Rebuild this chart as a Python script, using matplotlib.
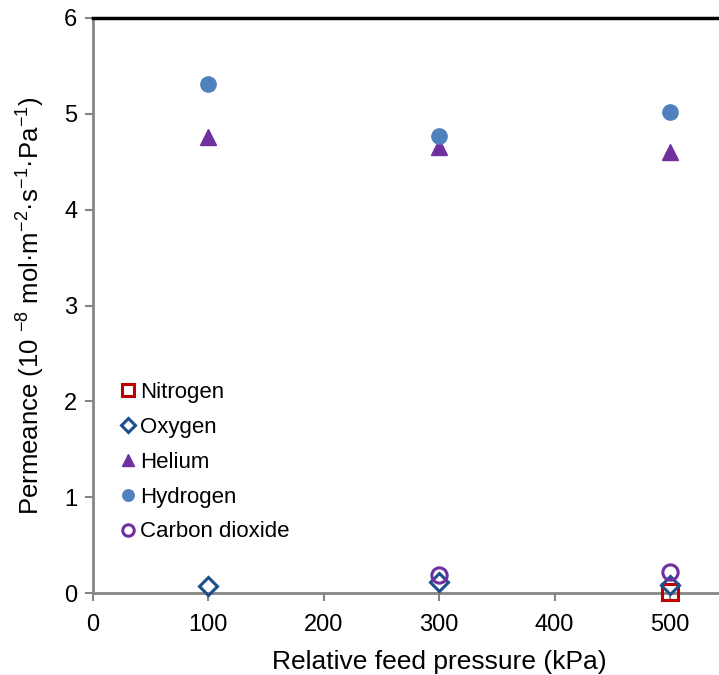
import matplotlib
matplotlib.use("Agg")
import matplotlib.pyplot as plt

plt.rcParams['font.family'] = ['Liberation Sans', 'DejaVu Sans']
plt.rcParams['mathtext.default'] = 'regular'

pressure = [100, 300, 500]
nitrogen_x = [500]
nitrogen = [0.01]
oxygen = [0.07, 0.12, 0.08]
helium = [4.76, 4.65, 4.60]
hydrogen = [5.31, 4.77, 5.02]
co2_x = [300, 500]
co2 = [0.19, 0.22]

fig = plt.figure(figsize=(7.19, 6.75), dpi=100)
W, H = 719, 675
x0, x1 = 92.5, 92.5 + 600 * 1.155
y0, y1 = 593, 18
ax = fig.add_axes([x0 / W, 1 - y0 / H, (x1 - x0) / W, (y0 - y1) / H])

ax.plot(nitrogen_x, nitrogen, linestyle='none', marker='s', ms=11.5, mfc='none',
        mec='#C00000', mew=2.2, label='Nitrogen', clip_on=False, zorder=3)
ax.plot(pressure, oxygen, linestyle='none', marker='D', ms=9, mfc='none',
        mec='#1F4E8C', mew=2.2, label='Oxygen', clip_on=False, zorder=4)
ax.plot(pressure, helium, linestyle='none', marker='^', ms=11, color='#7030A0',
        label='Helium', zorder=3)
ax.plot(pressure, hydrogen, linestyle='none', marker='o', ms=11, color='#4F81BD',
        label='Hydrogen', zorder=3)
ax.plot(co2_x, co2, linestyle='none', marker='o', ms=11, mfc='none',
        mec='#7030A0', mew=2.2, label='Carbon dioxide', clip_on=False, zorder=5)

ax.set_xlim(0, 600)
ax.set_ylim(0, 6)
ax.set_xticks([0, 100, 200, 300, 400, 500])
ax.set_yticks([0, 1, 2, 3, 4, 5, 6])

for s in ['left', 'bottom']:
    ax.spines[s].set_color('#868686')
    ax.spines[s].set_linewidth(2)
ax.spines['top'].set_color('black')
ax.spines['top'].set_linewidth(2.5)
ax.spines['right'].set_visible(False)
ax.tick_params(axis='both', direction='out', length=6, width=1.5, color='#868686',
               labelsize=17, pad=5)
ax.tick_params(axis='x', pad=9)

ax.set_xlabel('Relative feed pressure (kPa)', fontsize=19, labelpad=10)
ax.set_ylabel('Permeance (10 $^{-8}$ mol·m$^{-2}$·s$^{-1}$·Pa$^{-1}$)', fontsize=18.5, labelpad=12)

leg = ax.legend(loc='upper left', bbox_to_anchor=(0.03, 0.382), frameon=False,
                fontsize=16, handlelength=0.5, handletextpad=0.3,
                labelspacing=0.62, markerscale=0.75, borderaxespad=0)

fig.savefig('out.png', dpi=100)
